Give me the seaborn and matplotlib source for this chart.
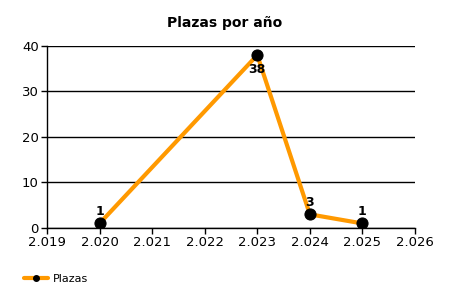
import matplotlib
matplotlib.use("Agg")
import matplotlib.pyplot as plt
import seaborn as sns
import pandas as pd
from matplotlib.ticker import FuncFormatter, MultipleLocator
from matplotlib.lines import Line2D

years = [2020, 2023, 2024, 2025]
plazas = [1, 38, 3, 1]
series_name = "Plazas"
title = "Plazas por año"

df = pd.DataFrame({"year": years, "plazas": plazas})

sns.set_style("white")
plt.rcParams['font.family'] = ['DejaVu Sans']
plt.rcParams['text.color'] = 'black'
plt.rcParams['xtick.color'] = 'black'
plt.rcParams['ytick.color'] = 'black'
plt.rcParams['axes.labelcolor'] = 'black'

fig = plt.figure(figsize=(4.5, 3), dpi=100)
ax = fig.add_axes([0.1044, 0.24, 0.8178, 0.6067])

color = "#FF9900"
sns.lineplot(data=df, x="year", y="plazas", ax=ax, color=color, linewidth=3,
             marker="o", markersize=8, markerfacecolor="black",
             markeredgecolor="black", legend=False)

ax.set_xlim(2019, 2026)
ax.set_ylim(0, 40)
ax.xaxis.set_major_locator(MultipleLocator(1))
ax.yaxis.set_major_locator(MultipleLocator(10))
ax.xaxis.set_major_formatter(FuncFormatter(lambda v, p: f"{int(v)//1000}.{int(v)%1000:03d}"))
ax.yaxis.set_major_formatter(FuncFormatter(lambda v, p: f"{int(v)}"))
ax.grid(axis="y", color="black", linewidth=1)
ax.set_axisbelow(True)
for s in ["top", "right"]:
    ax.spines[s].set_visible(False)
for s in ["left", "bottom"]:
    ax.spines[s].set_color("black")
    ax.spines[s].set_linewidth(1)
ax.tick_params(axis="both", direction="out", length=4, width=1, color="black",
               labelcolor="black", labelsize=9.5, pad=2, bottom=True, left=True)
ax.set_xlabel("")
ax.set_ylabel("")

for x, y in zip(years, plazas):
    if y == max(plazas):
        ax.annotate(str(y), (x, y), xytext=(0, -6), textcoords="offset points",
                    ha="center", va="top", fontweight="bold", fontsize=9, color="black")
    else:
        ax.annotate(str(y), (x, y), xytext=(0, 4), textcoords="offset points",
                    ha="center", va="bottom", fontweight="bold", fontsize=9, color="black")

fig.text(0.5, 0.925, title, ha="center", va="center", fontweight="bold", fontsize=10,
         color="black")

handle = Line2D([], [], color=color, linewidth=3, marker="o", markersize=4,
                markerfacecolor="black", markeredgecolor="black")
fig.legend([handle], [series_name], loc="lower left", bbox_to_anchor=(0.03, 0.02),
           frameon=False, fontsize=8, handlelength=2.2, handletextpad=0.4,
           labelcolor="black")

fig.savefig("out.png", dpi=100)
